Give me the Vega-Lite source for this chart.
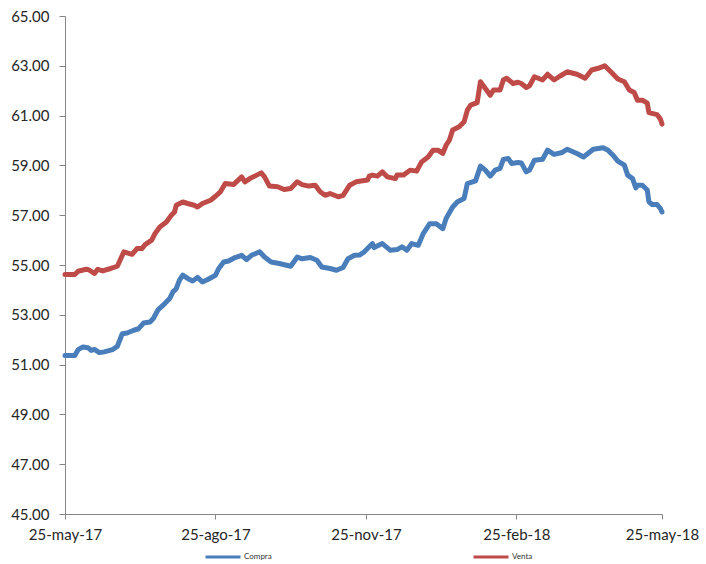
{
  "$schema": "https://vega.github.io/schema/vega-lite/v6.json",
  "width": 597,
  "height": 498,
  "autosize": "none",
  "padding": {"left": 65, "top": 16, "right": 44, "bottom": 50},
  "background": "white",
  "config": {
    "view": {"stroke": null},
    "font": "Lato",
    "axis": {"grid": false, "domainColor": "#868686", "tickColor": "#868686", "labelColor": "#262626", "labelFont": "Lato", "labelFontSize": 15, "title": null}
  },
  "data": {
    "format": {"parse": {"d": "date:'%Y-%m-%d'"}},
    "values": [
      {"d":"2017-05-25","s":"Venta","v":54.62},
      {"d":"2017-05-31","s":"Venta","v":54.62},
      {"d":"2017-06-02","s":"Venta","v":54.75},
      {"d":"2017-06-07","s":"Venta","v":54.83},
      {"d":"2017-06-09","s":"Venta","v":54.79},
      {"d":"2017-06-12","s":"Venta","v":54.66},
      {"d":"2017-06-14","s":"Venta","v":54.83},
      {"d":"2017-06-17","s":"Venta","v":54.76},
      {"d":"2017-06-22","s":"Venta","v":54.86},
      {"d":"2017-06-26","s":"Venta","v":54.95},
      {"d":"2017-06-30","s":"Venta","v":55.53},
      {"d":"2017-07-05","s":"Venta","v":55.43},
      {"d":"2017-07-08","s":"Venta","v":55.66},
      {"d":"2017-07-11","s":"Venta","v":55.66},
      {"d":"2017-07-13","s":"Venta","v":55.82},
      {"d":"2017-07-17","s":"Venta","v":56.0},
      {"d":"2017-07-19","s":"Venta","v":56.26},
      {"d":"2017-07-22","s":"Venta","v":56.53},
      {"d":"2017-07-26","s":"Venta","v":56.73},
      {"d":"2017-07-29","s":"Venta","v":57.0},
      {"d":"2017-07-31","s":"Venta","v":57.13},
      {"d":"2017-08-01","s":"Venta","v":57.4},
      {"d":"2017-08-05","s":"Venta","v":57.53},
      {"d":"2017-08-08","s":"Venta","v":57.47},
      {"d":"2017-08-12","s":"Venta","v":57.4},
      {"d":"2017-08-14","s":"Venta","v":57.33},
      {"d":"2017-08-17","s":"Venta","v":57.47},
      {"d":"2017-08-22","s":"Venta","v":57.6},
      {"d":"2017-08-25","s":"Venta","v":57.76},
      {"d":"2017-08-28","s":"Venta","v":57.94},
      {"d":"2017-08-31","s":"Venta","v":58.27},
      {"d":"2017-09-05","s":"Venta","v":58.23},
      {"d":"2017-09-10","s":"Venta","v":58.54},
      {"d":"2017-09-12","s":"Venta","v":58.34},
      {"d":"2017-09-15","s":"Venta","v":58.47},
      {"d":"2017-09-18","s":"Venta","v":58.57},
      {"d":"2017-09-22","s":"Venta","v":58.7},
      {"d":"2017-09-24","s":"Venta","v":58.54},
      {"d":"2017-09-27","s":"Venta","v":58.17},
      {"d":"2017-10-02","s":"Venta","v":58.14},
      {"d":"2017-10-06","s":"Venta","v":58.03},
      {"d":"2017-10-10","s":"Venta","v":58.07},
      {"d":"2017-10-14","s":"Venta","v":58.34},
      {"d":"2017-10-17","s":"Venta","v":58.23},
      {"d":"2017-10-21","s":"Venta","v":58.17},
      {"d":"2017-10-25","s":"Venta","v":58.2},
      {"d":"2017-10-28","s":"Venta","v":57.94},
      {"d":"2017-10-31","s":"Venta","v":57.8},
      {"d":"2017-11-03","s":"Venta","v":57.87},
      {"d":"2017-11-08","s":"Venta","v":57.74},
      {"d":"2017-11-11","s":"Venta","v":57.8},
      {"d":"2017-11-15","s":"Venta","v":58.2},
      {"d":"2017-11-19","s":"Venta","v":58.34},
      {"d":"2017-11-23","s":"Venta","v":58.38},
      {"d":"2017-11-26","s":"Venta","v":58.41},
      {"d":"2017-11-27","s":"Venta","v":58.57},
      {"d":"2017-11-29","s":"Venta","v":58.61},
      {"d":"2017-12-02","s":"Venta","v":58.57},
      {"d":"2017-12-05","s":"Venta","v":58.74},
      {"d":"2017-12-08","s":"Venta","v":58.54},
      {"d":"2017-12-13","s":"Venta","v":58.47},
      {"d":"2017-12-14","s":"Venta","v":58.61},
      {"d":"2017-12-18","s":"Venta","v":58.61},
      {"d":"2017-12-22","s":"Venta","v":58.81},
      {"d":"2017-12-26","s":"Venta","v":58.77},
      {"d":"2017-12-29","s":"Venta","v":59.14},
      {"d":"2018-01-02","s":"Venta","v":59.34},
      {"d":"2018-01-05","s":"Venta","v":59.61},
      {"d":"2018-01-08","s":"Venta","v":59.61},
      {"d":"2018-01-11","s":"Venta","v":59.48},
      {"d":"2018-01-13","s":"Venta","v":59.81},
      {"d":"2018-01-15","s":"Venta","v":60.01},
      {"d":"2018-01-17","s":"Venta","v":60.42},
      {"d":"2018-01-21","s":"Venta","v":60.55},
      {"d":"2018-01-24","s":"Venta","v":60.75},
      {"d":"2018-01-26","s":"Venta","v":61.22},
      {"d":"2018-01-28","s":"Venta","v":61.42},
      {"d":"2018-02-01","s":"Venta","v":61.52},
      {"d":"2018-02-03","s":"Venta","v":62.36},
      {"d":"2018-02-06","s":"Venta","v":62.09},
      {"d":"2018-02-09","s":"Venta","v":61.82},
      {"d":"2018-02-11","s":"Venta","v":62.03},
      {"d":"2018-02-15","s":"Venta","v":62.03},
      {"d":"2018-02-17","s":"Venta","v":62.43},
      {"d":"2018-02-19","s":"Venta","v":62.5},
      {"d":"2018-02-23","s":"Venta","v":62.29},
      {"d":"2018-02-26","s":"Venta","v":62.34},
      {"d":"2018-02-28","s":"Venta","v":62.29},
      {"d":"2018-03-03","s":"Venta","v":62.13},
      {"d":"2018-03-05","s":"Venta","v":62.2},
      {"d":"2018-03-08","s":"Venta","v":62.56},
      {"d":"2018-03-13","s":"Venta","v":62.43},
      {"d":"2018-03-16","s":"Venta","v":62.66},
      {"d":"2018-03-20","s":"Venta","v":62.43},
      {"d":"2018-03-24","s":"Venta","v":62.6},
      {"d":"2018-03-28","s":"Venta","v":62.76},
      {"d":"2018-04-03","s":"Venta","v":62.66},
      {"d":"2018-04-08","s":"Venta","v":62.5},
      {"d":"2018-04-12","s":"Venta","v":62.83},
      {"d":"2018-04-16","s":"Venta","v":62.9},
      {"d":"2018-04-20","s":"Venta","v":63.0},
      {"d":"2018-04-24","s":"Venta","v":62.74},
      {"d":"2018-04-28","s":"Venta","v":62.47},
      {"d":"2018-05-02","s":"Venta","v":62.36},
      {"d":"2018-05-05","s":"Venta","v":62.03},
      {"d":"2018-05-08","s":"Venta","v":61.93},
      {"d":"2018-05-10","s":"Venta","v":61.62},
      {"d":"2018-05-13","s":"Venta","v":61.62},
      {"d":"2018-05-16","s":"Venta","v":61.5},
      {"d":"2018-05-17","s":"Venta","v":61.12},
      {"d":"2018-05-22","s":"Venta","v":61.04},
      {"d":"2018-05-24","s":"Venta","v":60.86},
      {"d":"2018-05-25","s":"Venta","v":60.66},
      {"d":"2017-05-25","s":"Compra","v":51.37},
      {"d":"2017-05-31","s":"Compra","v":51.37},
      {"d":"2017-06-02","s":"Compra","v":51.6},
      {"d":"2017-06-05","s":"Compra","v":51.71},
      {"d":"2017-06-08","s":"Compra","v":51.68},
      {"d":"2017-06-10","s":"Compra","v":51.57},
      {"d":"2017-06-12","s":"Compra","v":51.61},
      {"d":"2017-06-15","s":"Compra","v":51.48},
      {"d":"2017-06-18","s":"Compra","v":51.51},
      {"d":"2017-06-23","s":"Compra","v":51.6},
      {"d":"2017-06-26","s":"Compra","v":51.73},
      {"d":"2017-06-29","s":"Compra","v":52.24},
      {"d":"2017-07-02","s":"Compra","v":52.27},
      {"d":"2017-07-06","s":"Compra","v":52.38},
      {"d":"2017-07-09","s":"Compra","v":52.44},
      {"d":"2017-07-12","s":"Compra","v":52.67},
      {"d":"2017-07-16","s":"Compra","v":52.71},
      {"d":"2017-07-18","s":"Compra","v":52.85},
      {"d":"2017-07-21","s":"Compra","v":53.21},
      {"d":"2017-07-25","s":"Compra","v":53.45},
      {"d":"2017-07-28","s":"Compra","v":53.65},
      {"d":"2017-07-30","s":"Compra","v":53.92},
      {"d":"2017-08-01","s":"Compra","v":54.05},
      {"d":"2017-08-03","s":"Compra","v":54.39},
      {"d":"2017-08-05","s":"Compra","v":54.59},
      {"d":"2017-08-08","s":"Compra","v":54.46},
      {"d":"2017-08-11","s":"Compra","v":54.36},
      {"d":"2017-08-14","s":"Compra","v":54.5},
      {"d":"2017-08-17","s":"Compra","v":54.32},
      {"d":"2017-08-20","s":"Compra","v":54.41},
      {"d":"2017-08-25","s":"Compra","v":54.59},
      {"d":"2017-08-27","s":"Compra","v":54.86},
      {"d":"2017-08-30","s":"Compra","v":55.12},
      {"d":"2017-09-02","s":"Compra","v":55.16},
      {"d":"2017-09-06","s":"Compra","v":55.3},
      {"d":"2017-09-10","s":"Compra","v":55.39},
      {"d":"2017-09-13","s":"Compra","v":55.22},
      {"d":"2017-09-16","s":"Compra","v":55.39},
      {"d":"2017-09-21","s":"Compra","v":55.53},
      {"d":"2017-09-24","s":"Compra","v":55.32},
      {"d":"2017-09-28","s":"Compra","v":55.12},
      {"d":"2017-10-03","s":"Compra","v":55.06},
      {"d":"2017-10-10","s":"Compra","v":54.95},
      {"d":"2017-10-14","s":"Compra","v":55.32},
      {"d":"2017-10-17","s":"Compra","v":55.25},
      {"d":"2017-10-22","s":"Compra","v":55.3},
      {"d":"2017-10-26","s":"Compra","v":55.19},
      {"d":"2017-10-29","s":"Compra","v":54.92},
      {"d":"2017-11-03","s":"Compra","v":54.86},
      {"d":"2017-11-07","s":"Compra","v":54.79},
      {"d":"2017-11-11","s":"Compra","v":54.9},
      {"d":"2017-11-14","s":"Compra","v":55.25},
      {"d":"2017-11-18","s":"Compra","v":55.39},
      {"d":"2017-11-21","s":"Compra","v":55.4},
      {"d":"2017-11-24","s":"Compra","v":55.53},
      {"d":"2017-11-29","s":"Compra","v":55.86},
      {"d":"2017-11-30","s":"Compra","v":55.7},
      {"d":"2017-12-05","s":"Compra","v":55.86},
      {"d":"2017-12-10","s":"Compra","v":55.59},
      {"d":"2017-12-14","s":"Compra","v":55.62},
      {"d":"2017-12-17","s":"Compra","v":55.73},
      {"d":"2017-12-20","s":"Compra","v":55.59},
      {"d":"2017-12-23","s":"Compra","v":55.86},
      {"d":"2017-12-27","s":"Compra","v":55.79},
      {"d":"2017-12-30","s":"Compra","v":56.26},
      {"d":"2018-01-03","s":"Compra","v":56.66},
      {"d":"2018-01-07","s":"Compra","v":56.66},
      {"d":"2018-01-11","s":"Compra","v":56.46},
      {"d":"2018-01-13","s":"Compra","v":56.87},
      {"d":"2018-01-17","s":"Compra","v":57.33},
      {"d":"2018-01-20","s":"Compra","v":57.54},
      {"d":"2018-01-24","s":"Compra","v":57.67},
      {"d":"2018-01-26","s":"Compra","v":58.27},
      {"d":"2018-01-31","s":"Compra","v":58.38},
      {"d":"2018-02-03","s":"Compra","v":58.97},
      {"d":"2018-02-06","s":"Compra","v":58.81},
      {"d":"2018-02-09","s":"Compra","v":58.57},
      {"d":"2018-02-12","s":"Compra","v":58.81},
      {"d":"2018-02-15","s":"Compra","v":58.88},
      {"d":"2018-02-17","s":"Compra","v":59.24},
      {"d":"2018-02-20","s":"Compra","v":59.28},
      {"d":"2018-02-22","s":"Compra","v":59.08},
      {"d":"2018-02-26","s":"Compra","v":59.12},
      {"d":"2018-02-28","s":"Compra","v":59.1},
      {"d":"2018-03-03","s":"Compra","v":58.74},
      {"d":"2018-03-05","s":"Compra","v":58.81},
      {"d":"2018-03-08","s":"Compra","v":59.21},
      {"d":"2018-03-13","s":"Compra","v":59.25},
      {"d":"2018-03-16","s":"Compra","v":59.61},
      {"d":"2018-03-20","s":"Compra","v":59.44},
      {"d":"2018-03-25","s":"Compra","v":59.52},
      {"d":"2018-03-28","s":"Compra","v":59.65},
      {"d":"2018-04-03","s":"Compra","v":59.48},
      {"d":"2018-04-07","s":"Compra","v":59.34},
      {"d":"2018-04-13","s":"Compra","v":59.65},
      {"d":"2018-04-19","s":"Compra","v":59.71},
      {"d":"2018-04-22","s":"Compra","v":59.61},
      {"d":"2018-04-25","s":"Compra","v":59.41},
      {"d":"2018-04-28","s":"Compra","v":59.17},
      {"d":"2018-05-02","s":"Compra","v":59.01},
      {"d":"2018-05-04","s":"Compra","v":58.61},
      {"d":"2018-05-07","s":"Compra","v":58.47},
      {"d":"2018-05-09","s":"Compra","v":58.1},
      {"d":"2018-05-10","s":"Compra","v":58.2},
      {"d":"2018-05-13","s":"Compra","v":58.2},
      {"d":"2018-05-16","s":"Compra","v":58.01},
      {"d":"2018-05-17","s":"Compra","v":57.54},
      {"d":"2018-05-19","s":"Compra","v":57.43},
      {"d":"2018-05-22","s":"Compra","v":57.43},
      {"d":"2018-05-24","s":"Compra","v":57.27},
      {"d":"2018-05-25","s":"Compra","v":57.13}
    ]
  },
  "mark": {"type": "line", "strokeWidth": 5, "strokeCap": "round", "strokeJoin": "round"},
  "encoding": {
    "x": {
      "field": "d", "type": "temporal",
      "scale": {"domain": [{"year": 2017, "month": 5, "date": 25}, {"year": 2018, "month": 5, "date": 25}]},
      "axis": {
        "values": [
          {"year": 2017, "month": 5, "date": 25},
          {"year": 2017, "month": 8, "date": 25},
          {"year": 2017, "month": 11, "date": 25},
          {"year": 2018, "month": 2, "date": 25},
          {"year": 2018, "month": 5, "date": 25}
        ],
        "labelExpr": "timeFormat(datum.value,'%d') + '-' + ['ene','feb','mar','abr','may','jun','jul','ago','sep','oct','nov','dic'][month(datum.value)] + '-' + timeFormat(datum.value,'%y')",
        "tickSize": 5, "labelPadding": 8, "labelFlush": false, "labelOverlap": false, "labelBound": false
      }
    },
    "y": {
      "field": "v", "type": "quantitative",
      "scale": {"domain": [45, 65], "nice": false, "zero": false},
      "axis": {"values": [45, 47, 49, 51, 53, 55, 57, 59, 61, 63, 65], "format": ".2f", "tickSize": 6, "labelPadding": 10}
    },
    "color": {
      "field": "s", "type": "nominal",
      "scale": {"domain": ["Compra", "Venta"], "range": ["#4A7EBB", "#BE4B48"]},
      "legend": {
        "title": null, "orient": "none", "direction": "horizontal",
        "legendX": 139, "legendY": 522,
        "symbolType": "stroke", "symbolSize": 1225, "symbolStrokeWidth": 3,
        "labelFontSize": 8, "labelFont": "Lato", "labelColor": "#333333", "labelOffset": 2,
        "columnPadding": 195
      }
    }
  }
}
